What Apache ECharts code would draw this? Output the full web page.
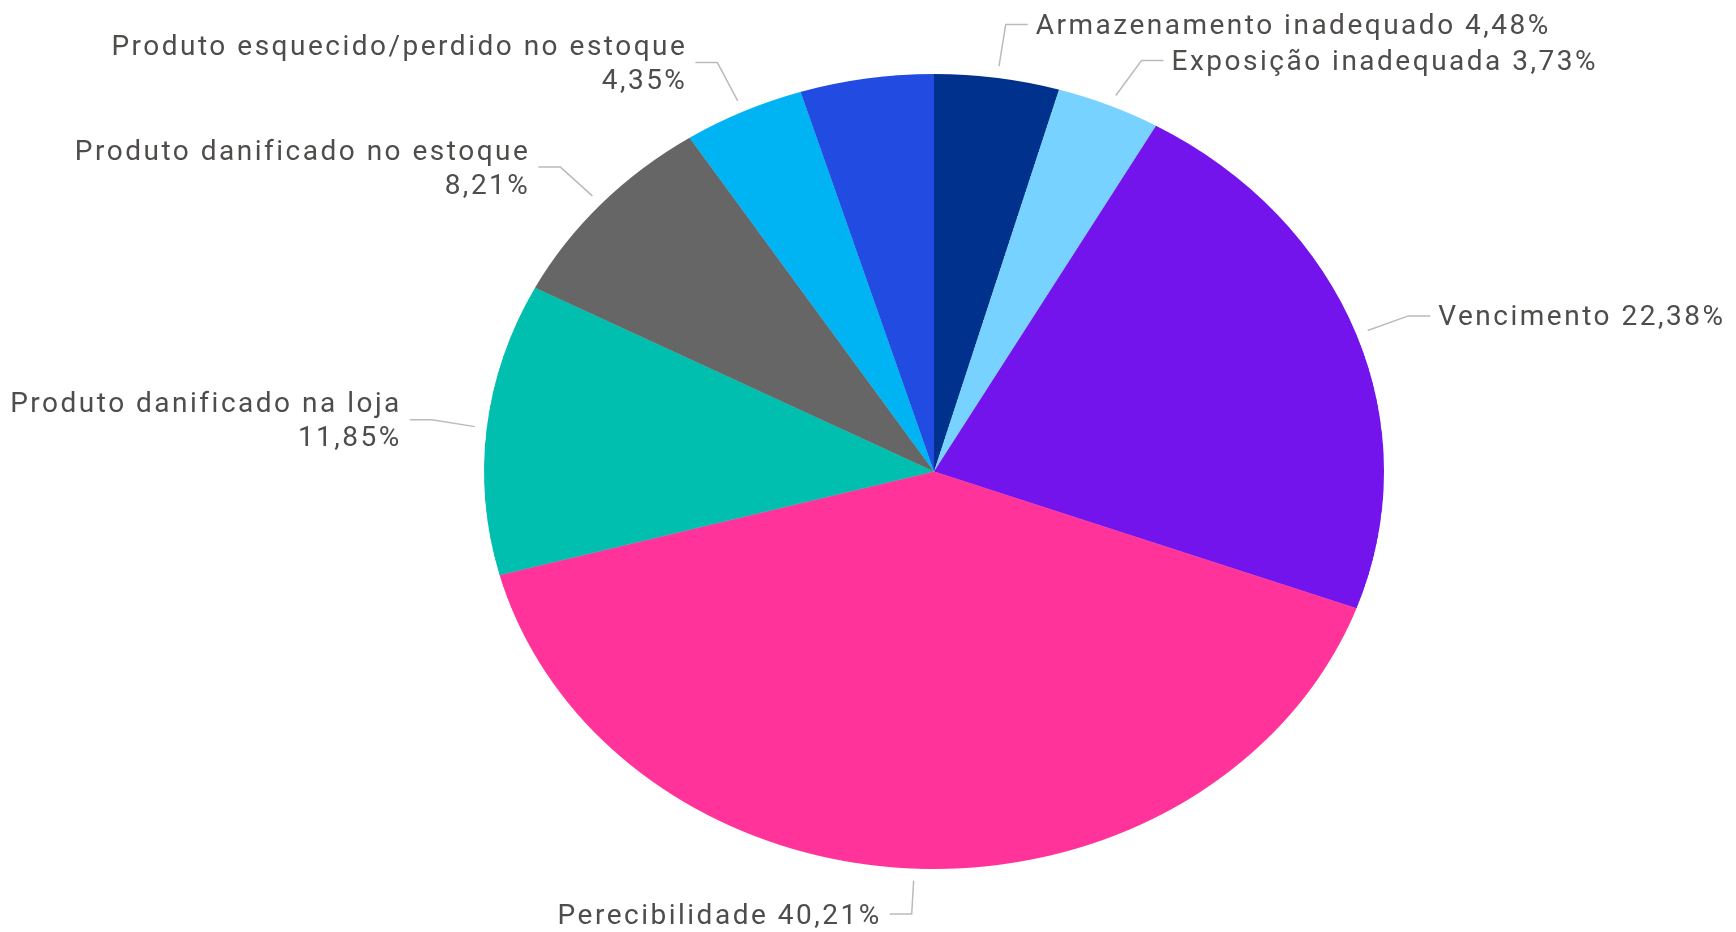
<!DOCTYPE html>
<html>
<head>
<meta charset="utf-8">
<script src="https://cdn.jsdelivr.net/npm/echarts@6/dist/echarts.min.js"></script>
<style>
  html, body { margin: 0; padding: 0; background: #fff; overflow: hidden; }
  #wrap { position: relative; width: 1736px; height: 932px; overflow: hidden; }
  .layer { position: absolute; left: 0; top: 0; width: 1736px; height: 932px; }
  /* espaçamento entre letras, parecido com a fonte DIN do original */
  #labels svg text { letter-spacing: 2.5px; }
</style>
</head>
<body>
<div id="wrap">
  <div id="pie" class="layer"></div>
  <div id="labels" class="layer"></div>
</div>
<script>
// categorias e valores (%), no sentido horário a partir do topo
const categories = [
	"Armazenamento inadequado",
	"Exposição inadequada",
	"Vencimento",
	"Perecibilidade",
	"Produto danificado na loja",
	"Produto danificado no estoque",
	"Produto esquecido/perdido no estoque",
	"Outros"
];
const values = [4.48, 3.73, 22.38, 40.21, 11.85, 8.21, 4.35, 4.79];
const colors = ["#00318C", "#78D2FF", "#7214EB", "#FF3399", "#00BFAE", "#666666", "#00B4F3", "#214BE1"];
// rótulos ocultos (fatia sem rótulo no original)
const hiddenLabels = ["Outros"];
// rótulos do lado esquerdo quebram linha antes do percentual
const wrapLabels = ["Produto danificado na loja", "Produto danificado no estoque", "Produto esquecido/perdido no estoque"];

// geometria: pizza elíptica = círculo esticado na horizontal
const cx = 934, cy = 471.5;
const ry = 397.5, rx = 450;
const k = rx / ry;

const fmtPct = (v) => v.toFixed(2).replace(".", ",") + "%";

const buildData = (withLabels) =>
	categories.map((name, i) => {
		const item = { name: name, value: values[i] };
		if (!withLabels) {
			item.itemStyle = { color: colors[i] };
		} else if (hiddenLabels.includes(name)) {
			item.label = { show: false };
			item.labelLine = { show: false };
		}
		return item;
	});

document.addEventListener("DOMContentLoaded", () => {
	//-----------------------------pizza (esticada via CSS)-----------------------------//
	const pieEl = document.getElementById("pie");
	pieEl.style.transformOrigin = cx + "px 0px";
	pieEl.style.transform = "scaleX(" + k + ")";
	const pieChart = echarts.init(pieEl, null, { devicePixelRatio: 2 });
	pieChart.setOption({
		animation: false,
		series: [{
			type: "pie",
			center: [cx, cy],
			radius: ry,
			startAngle: 90,
			clockwise: true,
			label: { show: false },
			labelLine: { show: false },
			emphasis: { disabled: true },
			itemStyle: { borderWidth: 0 },
			data: buildData(false)
		}]
	});

	//-----------------------------rótulos (SVG)-----------------------------//
	const labelChart = echarts.init(document.getElementById("labels"), null, { renderer: "svg" });
	labelChart.setOption({
		animation: false,
		series: [{
			type: "pie",
			center: [cx, cy],
			radius: ry,
			startAngle: 90,
			clockwise: true,
			silent: true,
			itemStyle: { color: "rgba(0,0,0,0)", borderWidth: 0 },
			emphasis: { disabled: true },
			label: {
				show: true,
				color: "#4F4D4B",
				fontFamily: "Roboto",
				fontSize: 28,
				lineHeight: 34,
				formatter: (p) => p.name + (wrapLabels.includes(p.name) ? "\n" : " ") + fmtPct(p.value)
			},
			labelLine: {
				show: true,
				length: 54,
				length2: 22,
				lineStyle: { color: "#BDBBB9", width: 1.5 }
			},
			labelLayout: function (p) {
				const pts = p.labelLinePoints;
				if (!pts) return {};
				const sx = (x) => cx + (x - cx) * k;
				const a = [sx(pts[0][0]), pts[0][1]];
				const b = [sx(pts[1][0]), pts[1][1]];
				// pequeno espaço entre a borda e o início da linha
				const len = Math.hypot(b[0] - a[0], b[1] - a[1]);
				const t = 12 / len;
				const a2 = [a[0] + (b[0] - a[0]) * t, a[1] + (b[1] - a[1]) * t];
				const shift = b[0] - pts[1][0];
				const c = [pts[2][0] + shift, pts[2][1]];
				const right = c[0] >= b[0];
				return {
					x: c[0] + (right ? 8 : -8),
					y: c[1],
					align: right ? "left" : "right",
					verticalAlign: "middle",
					labelLinePoints: [a2, b, c]
				};
			},
			data: buildData(true)
		}]
	});
});
</script>
</body>
</html>
